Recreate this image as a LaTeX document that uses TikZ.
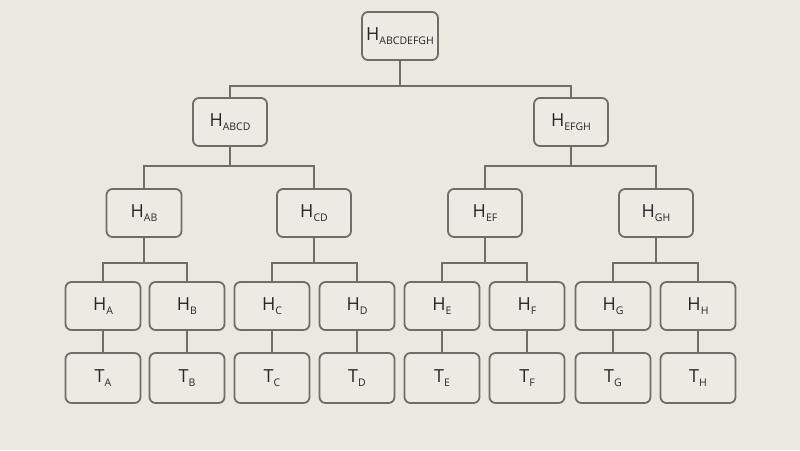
\documentclass[tikz,border=0pt]{standalone}
\usepackage{fontspec}
\setmainfont{Open Sans}
\definecolor{bg}{HTML}{E9E9E0}
\definecolor{boxfill}{HTML}{EBEBE3}
\definecolor{edge}{HTML}{6E6E69}
\definecolor{txt}{HTML}{262626}
\newcommand{\lbl}[2]{{\fontsize{18}{18}\selectfont #1}\raisebox{-4pt}{\fontsize{10.5}{10.5}\selectfont #2}}
\tikzset{
  hbox/.style={draw=edge, fill=boxfill, line width=1.8pt, rounded corners=6pt,
    minimum width=74pt, minimum height=48pt, inner sep=0pt, text=txt},
  tbox/.style={hbox, minimum width=75pt, minimum height=50pt},
  link/.style={draw=edge, line width=1.8pt}
}
\begin{document}
\begin{tikzpicture}[x=1pt,y=-1pt]
\fill[bg] (0,0) rectangle (800,450);
\useasboundingbox (0,0) rectangle (800,450);
% root
\node[hbox, minimum width=76pt] (root) at (400,36) {\lbl{H}{ABCDEFGH}};
% level 1
\node[hbox] (abcd) at (230,122) {\lbl{H}{ABCD}};
\node[hbox] (efgh) at (571,122) {\lbl{H}{EFGH}};
% level 2
\node[hbox, minimum width=75pt] (ab) at (144,213) {\lbl{H}{AB}};
\node[hbox] (cd) at (314,213) {\lbl{H}{CD}};
\node[hbox] (ef) at (485,213) {\lbl{H}{EF}};
\node[hbox] (gh) at (656,213) {\lbl{H}{GH}};
% level 3
\foreach \n/\x in {A/103,B/187,C/272,D/357,E/442,F/527,G/613,H/698}{
  \node[hbox, minimum width=75pt] (h\n) at (\x,306) {\lbl{H}{\n}};
  \node[tbox] (t\n) at (\x,378) {\lbl{T}{\n}};
  \draw[link] (h\n.south) -- (t\n.north);
}
% connectors
\draw[link] (root.south) -- ++(0,25) -| (abcd.north);
\draw[link] (root.south) -- ++(0,25) -| (efgh.north);
\draw[link] (abcd.south) -- ++(0,19) -| (ab.north);
\draw[link] (abcd.south) -- ++(0,19) -| (cd.north);
\draw[link] (efgh.south) -- ++(0,19) -| (ef.north);
\draw[link] (efgh.south) -- ++(0,19) -| (gh.north);
\draw[link] (ab.south) -- ++(0,25) -| (hA.north);
\draw[link] (ab.south) -- ++(0,25) -| (hB.north);
\draw[link] (cd.south) -- ++(0,25) -| (hC.north);
\draw[link] (cd.south) -- ++(0,25) -| (hD.north);
\draw[link] (ef.south) -- ++(0,25) -| (hE.north);
\draw[link] (ef.south) -- ++(0,25) -| (hF.north);
\draw[link] (gh.south) -- ++(0,25) -| (hG.north);
\draw[link] (gh.south) -- ++(0,25) -| (hH.north);
\end{tikzpicture}
\end{document}
